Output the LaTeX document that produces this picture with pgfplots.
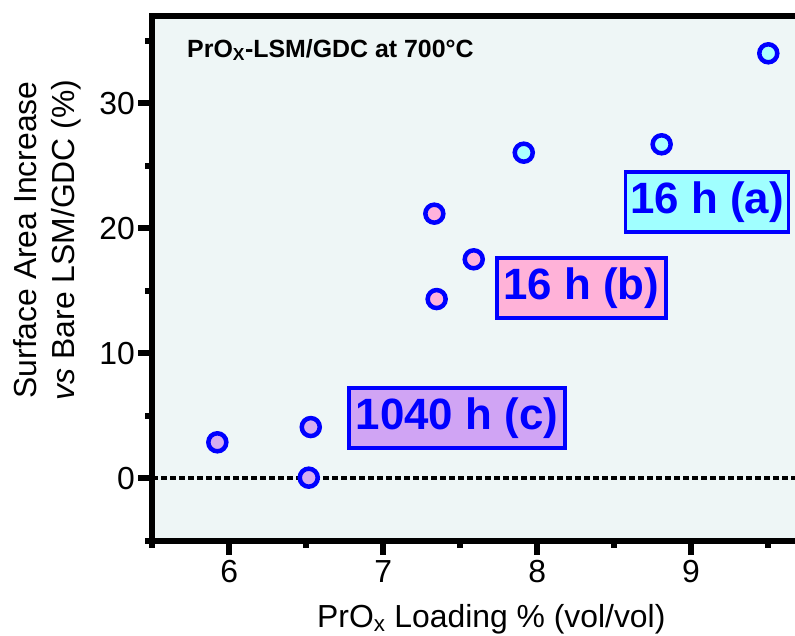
\documentclass[border=0pt]{standalone}
\usepackage{fontspec}
\setmainfont{Liberation Sans}
\usepackage{pgfplots}
\pgfplotsset{compat=1.18}
\definecolor{bgc}{RGB}{238,246,246}
\definecolor{cyanf}{RGB}{170,255,255}
\definecolor{pinkf}{RGB}{255,178,220}
\definecolor{purpf}{RGB}{214,172,240}
\definecolor{cyanb}{RGB}{160,255,255}
\definecolor{pinkb}{RGB}{255,178,216}
\definecolor{purpb}{RGB}{208,164,244}
\definecolor{mblue}{RGB}{0,0,255}
\begin{document}
\begin{tikzpicture}
\begin{axis}[
  name=ax,
  scale only axis,
  width=645.6bp, height=525bp,
  xmin=5.5, xmax=9.695, ymin=-5, ymax=37,
  xtick={6,7,8,9}, ytick={0,10,20,30},
  minor x tick num=1, minor y tick num=1,
  xtick pos=left, ytick pos=left,
  tick align=outside,
  major tick length=14bp, minor tick length=7bp,
  tick style={black, line width=6bp},
  axis line style={line width=6bp, black},
  axis background/.style={fill=bgc},
  tick label style={font=\fontsize{32}{32}\selectfont},
  xticklabel style={yshift=-2bp},
  /pgf/number format/assume math mode=true,
  clip=false,
  every axis y label/.style={at={(rel axis cs:0,0.573)}, xshift=-105bp, rotate=90, anchor=center, align=center, font=\fontsize{32}{38}\selectfont},
  every axis x label/.style={at={(rel axis cs:0.525,0)}, yshift=-87bp, anchor=base, font=\fontsize{32}{38}\selectfont},
  ylabel={Surface Area Increase\\\textit{vs} Bare LSM/GDC (\%)},
  xlabel={PrO\textsubscript{x} Loading \% (vol/vol)},
]
\addplot[black, line width=4bp, dash pattern=on 5.5bp off 3.5bp] coordinates {(5.5,0) (9.695,0)};
\addplot[only marks, mark=*, mark size=9bp, mark options={draw=mblue, fill=cyanf, line width=4.5bp}] coordinates {(7.913,26.05) (8.809,26.72) (9.502,34.0)};
\addplot[only marks, mark=*, mark size=9bp, mark options={draw=mblue, fill=pinkf, line width=4.5bp}] coordinates {(7.332,21.17) (7.347,14.34) (7.588,17.52)};
\addplot[only marks, mark=*, mark size=9bp, mark options={draw=mblue, fill=purpf, line width=4.5bp}] coordinates {(5.922,2.88) (6.529,4.10) (6.516,0.05)};
% thick tick marks
\draw[line width=6bp] (axis cs:6,-5) -- ([yshift=-14bp]axis cs:6,-5);
\draw[line width=6bp] (axis cs:7,-5) -- ([yshift=-14bp]axis cs:7,-5);
\draw[line width=6bp] (axis cs:8,-5) -- ([yshift=-14bp]axis cs:8,-5);
\draw[line width=6bp] (axis cs:9,-5) -- ([yshift=-14bp]axis cs:9,-5);
\draw[line width=6bp] (axis cs:5.5,-5) -- ([yshift=-7bp]axis cs:5.5,-5);
\draw[line width=6bp] (axis cs:6.5,-5) -- ([yshift=-7bp]axis cs:6.5,-5);
\draw[line width=6bp] (axis cs:7.5,-5) -- ([yshift=-7bp]axis cs:7.5,-5);
\draw[line width=6bp] (axis cs:8.5,-5) -- ([yshift=-7bp]axis cs:8.5,-5);
\draw[line width=6bp] (axis cs:9.5,-5) -- ([yshift=-7bp]axis cs:9.5,-5);
\draw[line width=6bp] (axis cs:5.5,0) -- ([xshift=-14bp]axis cs:5.5,0);
\draw[line width=6bp] (axis cs:5.5,10) -- ([xshift=-14bp]axis cs:5.5,10);
\draw[line width=6bp] (axis cs:5.5,20) -- ([xshift=-14bp]axis cs:5.5,20);
\draw[line width=6bp] (axis cs:5.5,30) -- ([xshift=-14bp]axis cs:5.5,30);
\draw[line width=6bp] (axis cs:5.5,-5) -- ([xshift=-7bp]axis cs:5.5,-5);
\draw[line width=6bp] (axis cs:5.5,5) -- ([xshift=-7bp]axis cs:5.5,5);
\draw[line width=6bp] (axis cs:5.5,15) -- ([xshift=-7bp]axis cs:5.5,15);
\draw[line width=6bp] (axis cs:5.5,25) -- ([xshift=-7bp]axis cs:5.5,25);
\draw[line width=6bp] (axis cs:5.5,35) -- ([xshift=-7bp]axis cs:5.5,35);
\node[anchor=base west, inner sep=0pt, font=\bfseries\fontsize{25}{25}\selectfont] at (axis cs:5.725,33.7) {PrO\textsubscript{X}-LSM/GDC at 700°C};
\node[draw=mblue, line width=3.5bp, fill=cyanb, text=mblue, minimum width=163bp, minimum height=60bp, inner sep=2bp, font=\bfseries\fontsize{44}{44}\selectfont] at (axis cs:9.104,22.1) {16 h (a)};
\node[draw=mblue, line width=3.5bp, fill=pinkb, text=mblue, minimum width=169bp, minimum height=60bp, inner sep=2bp, font=\bfseries\fontsize{44}{44}\selectfont] at (axis cs:8.288,15.22) {16 h (b)};
\node[draw=mblue, line width=3.5bp, fill=purpb, text=mblue, minimum width=216bp, minimum height=60bp, inner sep=2bp, font=\bfseries\fontsize{44}{44}\selectfont] at (axis cs:7.479,4.82) {1040 h (c)};
\end{axis}
\pgfresetboundingbox
\path (ax.south west) ++(-152.4bp,-95.2bp) rectangle ++(795bp,636bp);
\end{tikzpicture}
\end{document}
